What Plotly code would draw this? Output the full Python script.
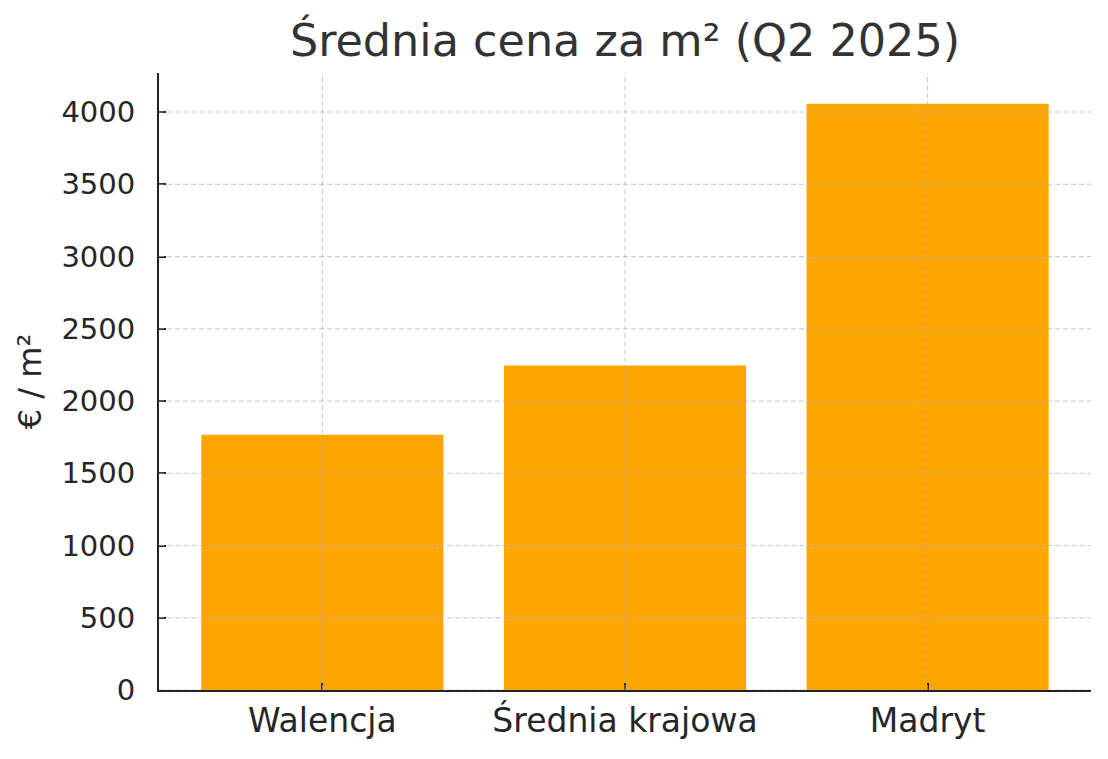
import plotly.graph_objects as go

categories = ["Walencja", "Średnia krajowa", "Madryt"]
values = [1766, 2245, 4058]
y_ticks = [0, 500, 1000, 1500, 2000, 2500, 3000, 3500, 4000]

title_text = "Średnia cena za m² (Q2 2025)"
y_title = "€ / m²"

FONT = "DejaVu Sans"
BAR_COLOR = "#FFA500"
GRID_COLOR = "rgba(176,176,176,0.7)"
AXIS_COLOR = "#222222"

# the page body has an 8px margin, so the figure is placed 8px in from the corner
W, H = 1100, 751
L, T = 151, 65
PW, PH = 932, 617

fig = go.Figure()
fig.add_trace(go.Bar(
    x=categories, y=values, width=0.8,
    marker=dict(color=BAR_COLOR, line=dict(width=0)),
    hoverinfo="x+y",
))

shapes = []
for t in y_ticks:
    shapes.append(dict(type="line", xref="paper", yref="y", x0=0, x1=1, y0=t, y1=t,
                       line=dict(color=GRID_COLOR, width=1, dash="5px,3px"), layer="above"))
for c in categories:
    shapes.append(dict(type="line", xref="x", yref="paper", x0=c, x1=c, y0=0, y1=1,
                       line=dict(color=GRID_COLOR, width=1, dash="5px,3px"), layer="above"))

fig.update_layout(
    width=W, height=H,
    margin=dict(l=L, r=W - L - PW, t=T, b=H - T - PH),
    paper_bgcolor="white", plot_bgcolor="white",
    font=dict(family=FONT, size=30, color="#262626"),
    title=dict(text=title_text, font=dict(family=FONT, size=44.5, color="#333333"),
               x=(L + PW / 2) / W, xanchor="center",
               xref="container", yref="container",
               y=1 - 32 / H, yanchor="middle"),
    showlegend=False,
    bargap=0.2,
    shapes=shapes,
)

fig.update_xaxes(
    range=[-0.54, 2.54],
    showgrid=False, zeroline=False,
    showline=True, linecolor=AXIS_COLOR, linewidth=2,
    ticks="inside", ticklen=7, tickwidth=1.5, tickcolor=AXIS_COLOR,
    tickfont=dict(family=FONT, size=33, color="#262626"),
    ticklabelstandoff=0,
)
fig.update_yaxes(
    range=[0, 4270],
    tickvals=y_ticks,
    showgrid=False, zeroline=False,
    showline=True, linecolor=AXIS_COLOR, linewidth=2,
    ticks="inside", ticklen=7, tickwidth=1.5, tickcolor=AXIS_COLOR,
    tickfont=dict(family=FONT, size=29, color="#262626"),
    ticklabelstandoff=16,
    title=dict(text=y_title, font=dict(family=FONT, size=32, color="#262626"), standoff=10),
)

fig.write_html("out.html")
